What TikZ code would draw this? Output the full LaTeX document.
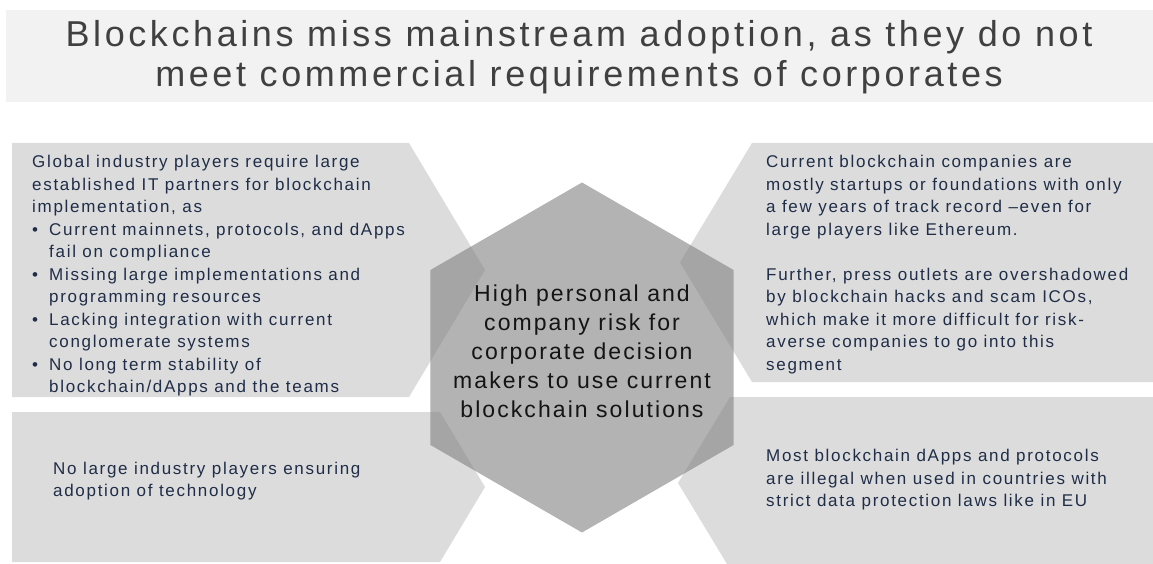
\documentclass[tikz,border=0pt]{standalone}
\usepackage{fontspec}
\setmainfont{Liberation Sans}
\newfontfamily\titlefont[LetterSpace=10]{Liberation Sans}
\newfontfamily\panelfont[LetterSpace=10]{Liberation Sans}
\newfontfamily\hexfont[LetterSpace=9]{Liberation Sans}
\usepackage{tikz}
\usetikzlibrary{calc,backgrounds}
\definecolor{bandgray}{RGB}{242,242,242}
\definecolor{panelgray}{RGB}{220,220,220}
\definecolor{hexgray}{RGB}{134,134,134}
\definecolor{titleink}{RGB}{64,64,64}
\definecolor{panelink}{RGB}{31,45,72}
\definecolor{hexink}{RGB}{20,20,20}
\newcommand{\panelcolor}{panelgray}
\newcommand{\hexcolor}{hexgray}
\newcommand{\hexradius}{175}
\newcommand{\bul}{\makebox[17pt][l]{\textbullet}}
\newcommand{\ind}{\hspace*{17pt}}
\tikzset{
  paneltext/.style={inner sep=0pt, align=left, text=panelink,
    font=\panelfont\fontsize{17}{22.5}\selectfont},
  hextext/.style={inner sep=0pt, align=center, text=hexink,
    font=\hexfont\fontsize{23}{29}\selectfont},
  titletext/.style={inner sep=0pt, align=center, text=titleink,
    font=\titlefont\fontsize{36}{39.5}\selectfont}
}

\begin{document}
\begin{tikzpicture}[x=1pt, y=-1pt]
\useasboundingbox (0,0) rectangle (1153,564);
%title band
\fill[bandgray] (6,10) rectangle (1153,102);
\node[titletext] (title) at (579,57) {Blockchains miss mainstream adoption, as they do not\\meet commercial requirements of corporates};
%panels
\fill[\panelcolor] (12,143) -- (409,143) -- (485,270) -- (409,397) -- (12,397) -- cycle;
\fill[\panelcolor] (12,412) -- (440,412) -- (485,487) -- (440,562) -- (12,562) -- cycle;
\fill[\panelcolor] (752,143) -- (1153,143) -- (1153,382) -- (752,382) -- (680,262.5) -- cycle;
\fill[\panelcolor] (730,397) -- (1153,397) -- (1153,564) -- (727,564) -- (678,483) -- cycle;
%hexagon
\coordinate (hc) at (582,357.5);
\fill[\hexcolor, fill opacity=0.63] ($(hc)+(90:\hexradius)$) -- ($(hc)+(150:\hexradius)$)
  -- ($(hc)+(210:\hexradius)$) -- ($(hc)+(270:\hexradius)$)
  -- ($(hc)+(330:\hexradius)$) -- ($(hc)+(30:\hexradius)$) -- cycle;
%texts
\node[hextext] (risk) at (582,351) {High personal and\\company risk for\\corporate decision\\makers to use current\\blockchain solutions};
\node[paneltext, anchor=north west] (partners) at (32,155) {Global industry players require large\\
established IT partners for blockchain\\
implementation, as\\
\bul Current mainnets, protocols, and dApps\\
\ind fail on compliance\\
\bul Missing large implementations and\\
\ind programming resources\\
\bul Lacking integration with current\\
\ind conglomerate systems\\
\bul No long term stability of\\
\ind blockchain/dApps and the teams};
\node[paneltext, anchor=west] (adoption) at (53,481) {No large industry players ensuring\\adoption of technology};
\node[paneltext, anchor=north west] (track) at (766,155) {Current blockchain companies are\\
mostly startups or foundations with only\\
a few years of track record –even for\\
large players like Ethereum.\\[22.5pt]
Further, press outlets are overshadowed\\
by blockchain hacks and scam ICOs,\\
which make it more difficult for risk-\\
averse companies to go into this\\
segment};
\node[paneltext, anchor=west] (legal) at (766,480) {Most blockchain dApps and protocols\\are illegal when used in countries with\\strict data protection laws like in EU};
\end{tikzpicture}
\end{document}
